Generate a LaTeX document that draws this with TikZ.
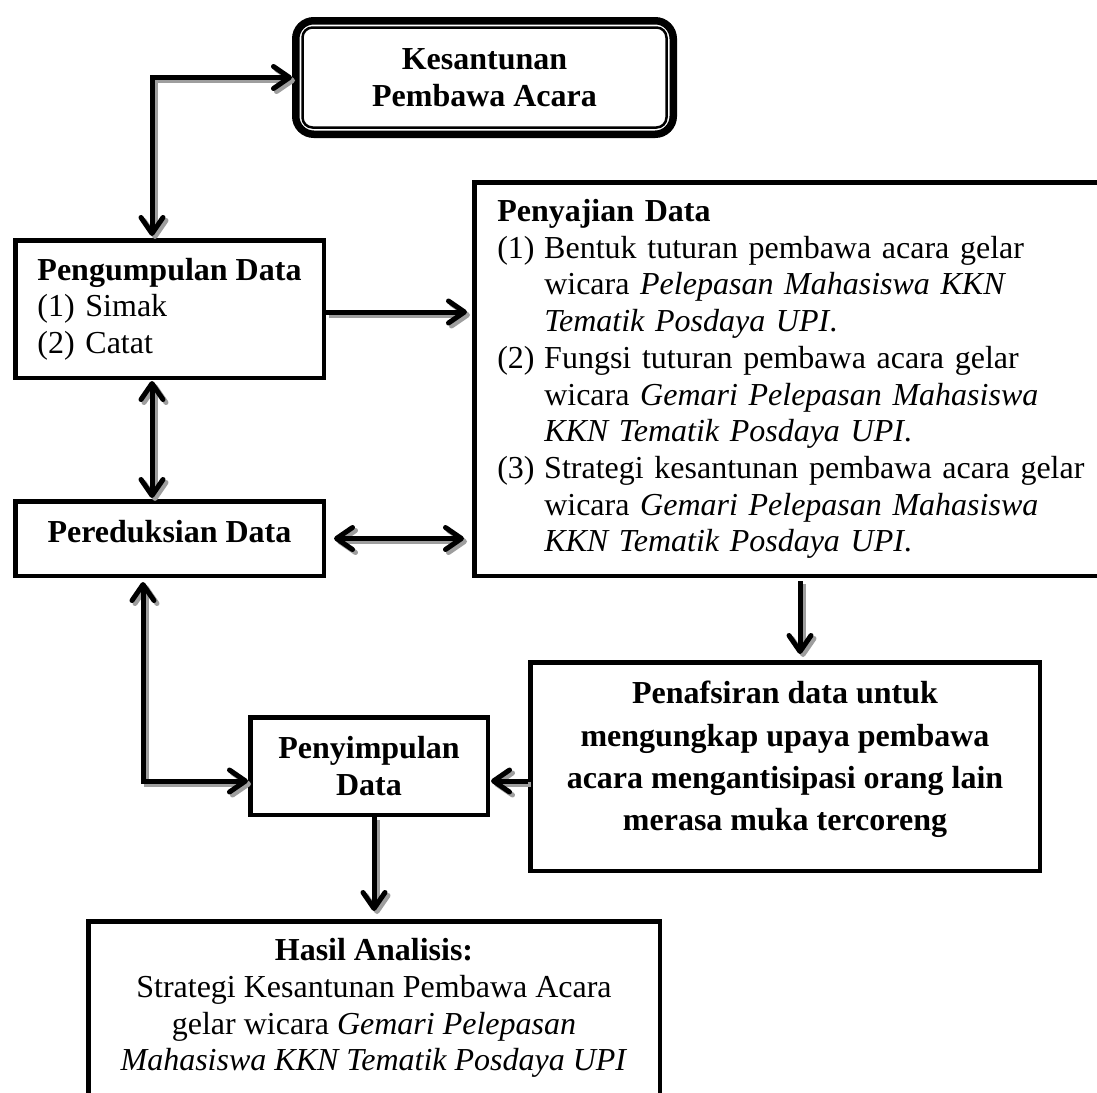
\documentclass[tikz,border=0pt]{standalone}
\usepackage{fontspec}
\setmainfont{Liberation Serif}
\usetikzlibrary{arrows.meta}
\tikzset{
  box/.style={draw, line width=4.5pt, rectangle, inner sep=0pt, fill=white},
  conn/.style={line width=5pt, draw=black},
  shad/.style={line width=5pt, draw=black!38, transform canvas={shift={(3pt,-3pt)}}},
  txt/.style={font={\fontsize{32}{36.7}\selectfont}},
  txtb/.style={font={\fontsize{32}{36.7}\selectfont\bfseries}},
}
\newcommand\shdraw[2]{\draw[shad,#1]#2;\draw[conn,#1]#2;}
\begin{document}
\begin{tikzpicture}[x=1pt,y=-1pt,>={Straight Barb[length=16pt,width=22pt,round]}]
\useasboundingbox (0,0) rectangle (1097,1092);
\clip (0,0) rectangle (1097,1092);

% top box
\node[box, txtb, line width=7.5pt, rounded corners=18pt, minimum width=377.5pt, minimum height=113.5pt, align=center] (top) at (484.5,77.5) {Kesantunan\\Pembawa Acara};
\draw[line width=2.5pt, rounded corners=10pt] ([xshift=10.5pt,yshift=-10.5pt]top.north west) rectangle ([xshift=-10.5pt,yshift=10.5pt]top.south east);

\node[box, txt, align=left, minimum width=308.5pt, minimum height=137.5pt] (peng) at (169.5,309)
  {\textbf{Pengumpulan Data}\\\makebox[48pt][l]{(1)}Simak\\\makebox[48pt][l]{(2)}Catat};

\node[box, txtb, minimum width=308.5pt, minimum height=74.5pt, text depth=14pt] (red) at (169.5,538.5) {Pereduksian Data};

\node[box, txt, anchor=west, text width=610pt, inner xsep=23pt, align=left, minimum height=393.5pt] (saj) at (472,379)
  {\textbf{Penyajian Data}\\
   \makebox[47pt][l]{(1)}Bentuk tuturan pembawa acara gelar\\
   \hspace*{47pt}wicara \textit{Pelepasan Mahasiswa KKN}\\
   \hspace*{47pt}\textit{Tematik Posdaya UPI}.\\
   \makebox[47pt][l]{(2)}Fungsi tuturan pembawa acara gelar\\
   \hspace*{47pt}wicara \textit{Gemari Pelepasan Mahasiswa}\\
   \hspace*{47pt}\textit{KKN Tematik Posdaya UPI}.\\
   \makebox[47pt][l]{(3)}Strategi kesantunan pembawa acara gelar\\
   \hspace*{47pt}wicara \textit{Gemari Pelepasan Mahasiswa}\\
   \hspace*{47pt}\textit{KKN Tematik Posdaya UPI}.};

\node[box, font={\fontsize{32}{42.3}\selectfont\bfseries}, align=center, minimum width=509.5pt, minimum height=208.5pt, text depth=21pt] (taf) at (785,766.5)
  {Penafsiran data untuk\\mengungkap upaya pembawa\\acara mengantisipasi orang lain\\merasa muka tercoreng};

\node[box, txtb, align=center, minimum width=237.5pt, minimum height=97.5pt] (simp) at (369,766) {Penyimpulan\\Data};

\node[box, txt, align=center, minimum width=571.5pt, minimum height=173.5pt] (hasil) at (374,1008)
  {\textbf{Hasil Analisis:}\\Strategi Kesantunan Pembawa Acara\\gelar wicara \textit{Gemari Pelepasan}\\\textit{Mahasiswa KKN Tematik Posdaya UPI}};

% lanes
\coordinate (l1) at (152,0);
\coordinate (l4) at (143,0);
\coordinate (l2) at (800,0);
\coordinate (h5) at (0,312);
\coordinate (h3) at (0,781);

% connectors
\shdraw{<->, shorten <=2pt}{(peng.north -| l1) |- (top.west)}
\shdraw{<->, shorten <=1pt, shorten >=1pt}{(peng.south -| l1) -- (red.north -| l1)}
\shdraw{->, shorten >=5pt}{(peng.east |- h5) -- (saj.west |- h5)}
\shdraw{<->, shorten <=8pt, shorten >=8pt}{(red.east) -- (saj.west |- red.east)}
\shdraw{->, shorten <=3pt, shorten >=6pt}{(saj.south -| l2) -- (taf.north -| l2)}
\shdraw{->, shorten >=1pt}{(taf.west |- h3) -- (simp.east |- h3)}
\shdraw{<->, shorten <=4pt}{(red.south -| l4) |- (simp.west |- h3)}
\shdraw{->, shorten >=8pt}{(simp.south -| hasil.north) -- (hasil.north)}
\end{tikzpicture}
\end{document}
